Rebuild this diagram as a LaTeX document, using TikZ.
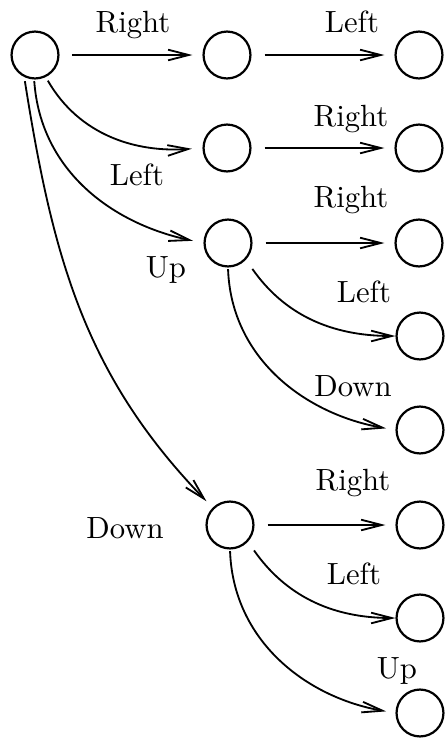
\documentclass[tikz,border=0pt]{standalone}
\usetikzlibrary{arrows.meta}
\begin{document}
\begin{tikzpicture}[x=0.339pt,y=-0.339pt,
  state/.style={circle,draw,line width=0.75pt,minimum size=15.9pt,inner sep=0pt},
  lbl/.style={anchor=base,inner sep=0pt,font=\fontsize{10.4}{12}\selectfont},
  edge/.style={line width=0.62pt,-{Straight Barb[length=7pt,width=3.6pt]}}]
\useasboundingbox (0,0) rectangle (444,740);
% states
\node[state] (root) at (35,55) {};
\node[state] (m1) at (227,55) {};
\node[state] (m2) at (227,148) {};
\node[state] (m3) at (228,243) {};
\node[state] (m4) at (230,525) {};
\node[state] (r1) at (419,55) {};
\node[state] (r2) at (419,148) {};
\node[state] (r3) at (419,243) {};
\node[state] (r4) at (420,336) {};
\node[state] (r5) at (420,430) {};
\node[state] (r6) at (420,525) {};
\node[state] (r7) at (420,618) {};
\node[state] (r8) at (420,713) {};
% labels
\node[lbl] (l1) at (133,32) {Right};
\node[lbl] (l2) at (352,32) {Left};
\node[lbl] (l3) at (137,185) {Left};
\node[lbl] (l4) at (351,126) {Right};
\node[lbl] (l5) at (351,207) {Right};
\node[lbl] (l6) at (166,277) {Up};
\node[lbl] (l7) at (364,302) {Left};
\node[lbl] (l8) at (353,396) {Down};
\node[lbl] (l9) at (353,490) {Right};
\node[lbl] (l10) at (125,538) {Down};
\node[lbl] (l11) at (354,584) {Left};
\node[lbl] (l12) at (397,678) {Up};
% straight edges
\draw[edge,shorten <=4.2pt,shorten >=3.4pt] (root.east) -- (m1.west);
\draw[edge,shorten <=4.4pt,shorten >=3.4pt] (m1.east) -- (r1.west);
\draw[edge,shorten <=4.4pt,shorten >=3.4pt] (m2.east) -- (r2.west);
\draw[edge,shorten <=4.4pt,shorten >=3.4pt] (m3.east) -- (r3.west);
\draw[edge,shorten <=4.4pt,shorten >=3.4pt] (m4.east) -- (r6.west);
% curved edges from root
\draw[edge,shorten <=1.4pt,shorten >=3.6pt] (root.-64) to[out=-60,in=184] (m2.west);
\draw[edge,shorten <=0.5pt,shorten >=3.6pt] (root.-92) to[out=-86,in=168] (m3.west);
\draw[edge,shorten <=1.4pt,shorten >=3pt] (root.-116) to[out=-81,in=134] (m4.135);
% curved edges from m3
\draw[edge,shorten <=3.8pt] (m3.-43) to[out=-55,in=180] (r4.west);
\draw[edge,shorten <=0.5pt,shorten >=3.2pt] (m3.-90) to[out=-88,in=170] (r5.west);
% curved edges from m4
\draw[edge,shorten <=3.6pt] (m4.-43) to[out=-55,in=180] (r7.west);
\draw[edge,shorten <=0.5pt,shorten >=3.2pt] (m4.-90) to[out=-88,in=170] (r8.west);
\end{tikzpicture}
\end{document}
